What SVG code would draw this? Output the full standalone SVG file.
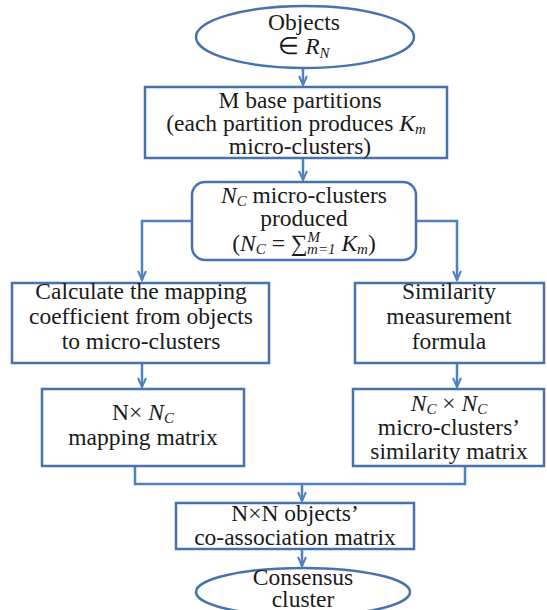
<svg xmlns="http://www.w3.org/2000/svg" width="547" height="610" viewBox="0 0 547 610">
<defs>
<marker id="arr" markerWidth="12" markerHeight="10" refX="10" refY="5" orient="auto" markerUnits="userSpaceOnUse">
<path d="M1,1 L10,5 L1,9" fill="none" stroke="#4f81bd" stroke-width="2"/>
</marker>
<style>
.box{fill:#fff;stroke:#4672ad;stroke-width:2.5}
.con{fill:none;stroke:#4f81bd;stroke-width:2.5}
text{font-family:"Liberation Serif","Times New Roman",serif;font-size:23.5px;fill:#1a1a1a;text-anchor:middle}
.i{font-style:italic}
.s{font-size:15px;font-style:italic}
</style>
</defs>
<rect width="547" height="610" fill="#fff"/>
<g id="connectors">
<path class="con" d="M303,68 V85" marker-end="url(#arr)"/>
<path class="con" d="M303,159 V180" marker-end="url(#arr)"/>
<path class="con" d="M192,221 H142 V280" marker-end="url(#arr)"/>
<path class="con" d="M416,221 H457 V280" marker-end="url(#arr)"/>
<path class="con" d="M142,363 V387" marker-end="url(#arr)"/>
<path class="con" d="M457,363 V387" marker-end="url(#arr)"/>
<path class="con" d="M135,466 V484 H465 V466"/>
<path class="con" d="M302,484 V501" marker-end="url(#arr)"/>
<path class="con" d="M302,549 V566" marker-end="url(#arr)"/>
</g>
<g id="objects">
<ellipse class="box" cx="305" cy="37" rx="109" ry="31"/>
<text x="304" y="30">Objects</text>
<text x="304" y="54">∈ <tspan class="i">R</tspan><tspan class="s" dy="4">N</tspan></text>
</g>
<g id="base-partitions">
<rect class="box" x="145" y="87" width="302" height="71"/>
<text x="300" y="108">M base partitions</text>
<text x="296" y="131">(each partition produces <tspan class="i">K</tspan><tspan class="s" dy="3">m</tspan></text>
<text x="300" y="154">micro-clusters)</text>
</g>
<g id="micro-clusters">
<rect class="box" x="192" y="182" width="224" height="78" rx="13"/>
<text x="304" y="203"><tspan class="i">N</tspan><tspan class="s" dy="3">C</tspan><tspan dy="-3"> micro-clusters</tspan></text>
<text x="304" y="226">produced</text>
<text x="304" y="251">(<tspan class="i">N</tspan><tspan class="s" dy="3">C</tspan><tspan dy="-3"> = ∑</tspan><tspan class="s" dy="-9">M</tspan><tspan class="s" dx="-13" dy="12">m=1</tspan><tspan class="i" dy="-3"> K</tspan><tspan class="s" dy="3">m</tspan><tspan dy="-3">)</tspan></text>
</g>
<g id="mapping-coefficient">
<rect class="box" x="12" y="283" width="257" height="80"/>
<text x="141" y="299">Calculate the mapping</text>
<text x="141" y="324">coefficient from objects</text>
<text x="141" y="349">to micro-clusters</text>
</g>
<g id="similarity-formula">
<rect class="box" x="355" y="283" width="189" height="80"/>
<text x="449" y="299">Similarity</text>
<text x="449" y="324">measurement</text>
<text x="449" y="349">formula</text>
</g>
<g id="mapping-matrix">
<rect class="box" x="42" y="389" width="202" height="77"/>
<text x="143" y="420">N× <tspan class="i">N</tspan><tspan class="s" dy="3">C</tspan></text>
<text x="143" y="445">mapping matrix</text>
</g>
<g id="similarity-matrix">
<rect class="box" x="353" y="389" width="191" height="77"/>
<text x="449" y="411"><tspan class="i">N</tspan><tspan class="s" dy="3">C</tspan><tspan dy="-3">  × </tspan><tspan class="i">N</tspan><tspan class="s" dy="3">C</tspan></text>
<text x="449" y="435">micro-clusters’</text>
<text x="449" y="459">similarity matrix</text>
</g>
<g id="co-association">
<rect class="box" x="176" y="503" width="238" height="46"/>
<text x="295" y="521">N×N objects’</text>
<text x="295" y="545">co-association matrix</text>
</g>
<g id="consensus">
<ellipse class="box" cx="303" cy="592" rx="107" ry="24"/>
<text x="303" y="585">Consensus</text>
<text x="303" y="607">cluster</text>
</g>
</svg>
